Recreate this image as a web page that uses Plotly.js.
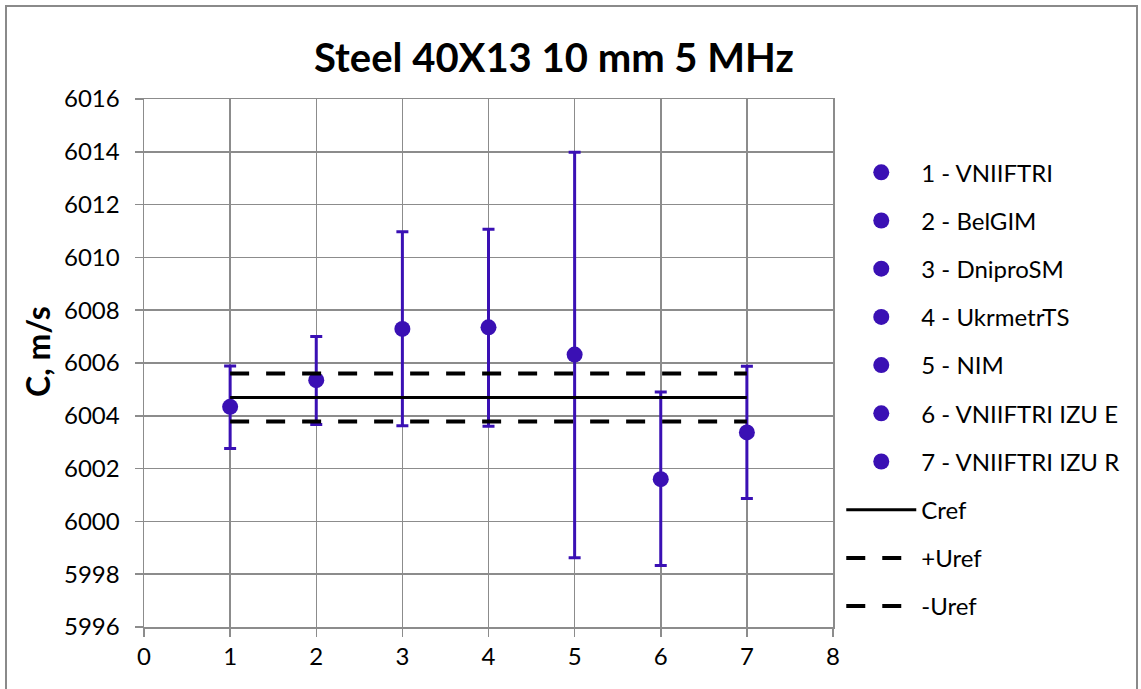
<!DOCTYPE html>
<html>
<head>
<meta charset="utf-8">
<script src="https://cdn.plot.ly/plotly-3.0.1.min.js"></script>
<style>
  html, body { margin: 0; padding: 0; background: #fff; }
  #wrap { position: relative; width: 1141px; height: 689px; }
  #chart { width: 1141px; height: 689px; }
  #frame { position: absolute; left: 5px; top: 5px; width: 1133px; height: 700px;
           border: 2px solid #8a8a8a; pointer-events: none; box-sizing: border-box; }
</style>
</head>
<body>
<div id="wrap"><div id="chart"></div><div id="frame"></div></div>
<script>
// Data
const labs = ['1 - VNIIFTRI', '2 - BelGIM', '3 - DniproSM', '4 - UkrmetrTS', '5 - NIM', '6 - VNIIFTRI IZU E', '7 - VNIIFTRI IZU R'];
const labNo = [1, 2, 3, 4, 5, 6, 7];
const speed = [6004.34, 6005.35, 6007.29, 6007.35, 6006.32, 6001.60, 6003.37];
const upperBound = [6005.89, 6007.00, 6010.97, 6011.07, 6013.98, 6004.90, 6005.88];
const lowerBound = [6002.76, 6003.67, 6003.62, 6003.60, 5998.62, 5998.33, 6000.87];
const refX = [1, 7];
const cref = 6004.69;
const urefPlus = 6005.60;
const urefMinus = 6003.78;
const refNames = ['Cref', '+Uref', '-Uref'];

const FONT = 'Lato, "Open Sans", sans-serif';
const PURPLE = '#3a10b4';
const GRID = '#8c8c8c';

const traces = [];
labs.forEach((name, i) => {
  traces.push({
    type: 'scatter', mode: 'markers', name: name,
    x: [labNo[i]], y: [speed[i]],
    legendgroup: 'g' + i,
    marker: { color: PURPLE, size: 16 },
    error_y: {
      type: 'data', symmetric: false,
      array: [upperBound[i] - speed[i]],
      arrayminus: [speed[i] - lowerBound[i]],
      color: PURPLE, thickness: 3, width: 6
    }
  });
});
const refVals = [cref, urefPlus, urefMinus];
const refDash = ['solid', '19px,17px', '19px,17px'];
const refWidth = [3, 4, 4];
refNames.forEach((name, i) => {
  traces.push({
    type: 'scatter', mode: 'lines', name: name,
    x: refX, y: refX.map(() => refVals[i]),
    legendgroup: 'r' + i,
    line: { color: '#000', width: refWidth[i], dash: refDash[i] }
  });
});

const layout = {
  width: 1141, height: 689,
  margin: { l: 144, r: 308, t: 99, b: 62 },
  paper_bgcolor: '#fff', plot_bgcolor: '#fff',
  font: { family: FONT, size: 24, color: '#000' },
  title: {
    text: '<b>Steel 40X13 10 mm 5 MHz</b>',
    font: { family: FONT, size: 40, color: '#000' },
    x: 0.4855, xanchor: 'center', y: 0.916, yanchor: 'middle'
  },
  xaxis: {
    range: [0, 8], dtick: 1, tick0: 0,
    showgrid: true, gridcolor: GRID, gridwidth: 1.5,
    showline: true, linecolor: GRID, linewidth: 1.5, mirror: true,
    ticks: 'outside', ticklen: 8, tickcolor: GRID, tickwidth: 1.5,
    zeroline: false, tickfont: { family: FONT, size: 24, color: '#000' },
    fixedrange: true
  },
  yaxis: {
    range: [5996, 6016], dtick: 2, tick0: 5996,
    showgrid: true, gridcolor: GRID, gridwidth: 1.5,
    showline: true, linecolor: GRID, linewidth: 1.5, mirror: true,
    ticks: 'outside', ticklen: 8, tickcolor: GRID, tickwidth: 1.5,
    zeroline: false, tickfont: { family: FONT, size: 24, color: '#000' },
    ticklabelstandoff: 10, tickformat: 'd',
    fixedrange: true
  },
  annotations: [{
    text: '<b>C, m/s</b>', xref: 'paper', yref: 'paper',
    x: -0.1553, y: 0.5227, xanchor: 'center', yanchor: 'middle',
    textangle: -90, showarrow: false,
    font: { family: FONT, size: 32, color: '#000' }
  }],
  showlegend: true,
  legend: {
    x: 1.012, xanchor: 'left', y: 0.903, yanchor: 'top',
    traceorder: 'grouped', tracegroupgap: 14,
    itemwidth: 70,
    font: { family: FONT, size: 24, color: '#000' },
    bgcolor: 'rgba(0,0,0,0)'
  }
};

Plotly.newPlot('chart', traces, layout, { displayModeBar: false, staticPlot: true });
</script>
</body>
</html>
